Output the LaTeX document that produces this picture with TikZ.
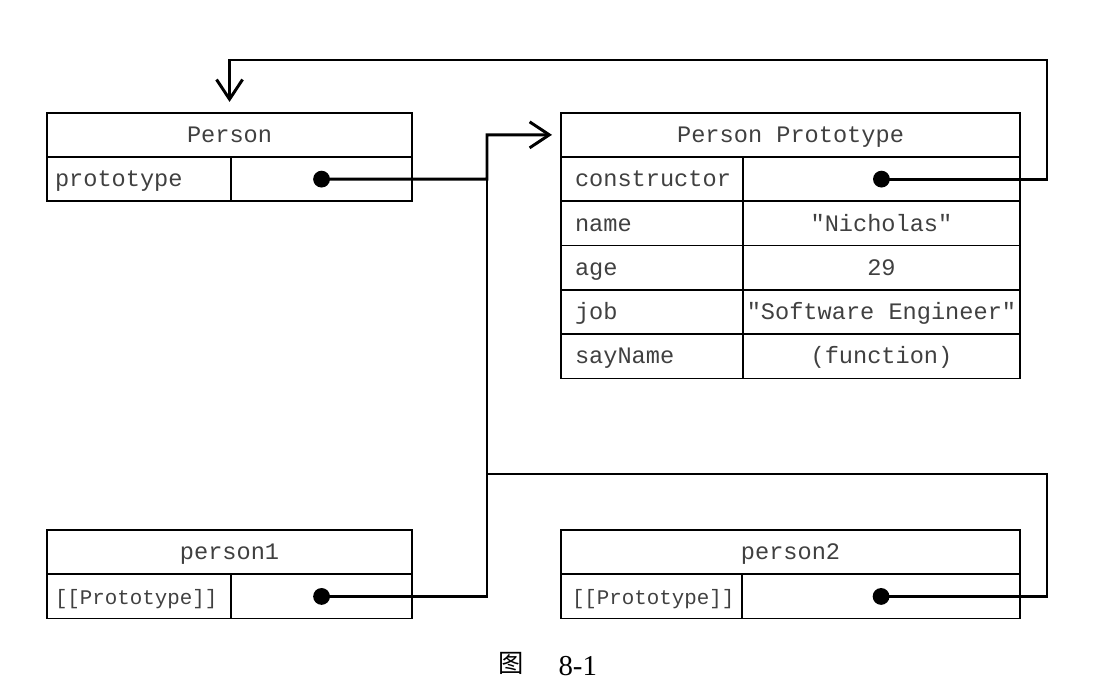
\documentclass[tikz,border=0pt]{standalone}
\usepackage{fontspec}
\setmainfont{Liberation Serif}
\newfontfamily\mono{Liberation Mono}
\newfontfamily\cjk{Noto Sans CJK SC}
\usetikzlibrary{positioning,arrows.meta}

\begin{document}
\begin{tikzpicture}[x=0.025cm,y=-0.025cm,>={Straight Barb[length=14pt,width=18.5pt]},
  cell/.style={draw,line width=1.2pt,outer sep=0pt,inner sep=0pt,minimum height=1.107cm,
    text height=14pt,text depth=3pt,font=\mono\fontsize{16.8}{18}\selectfont,text=black!75},
  key/.style={cell,align=left,inner xsep=#1},
  small/.style={font=\mono\fontsize{14.8}{16}\selectfont},
  conn/.style={line width=2.1pt}]
  \useasboundingbox (0,0) rectangle (1100,688);
  % Person
  \node[cell,minimum width=9.125cm,anchor=north west] (pH) at (47,112.7) {Person};
  \node[key=0.2cm,text width=4.2cm,anchor=north west] (pK) at (pH.south west) {prototype};
  \node[cell,minimum width=4.525cm,anchor=north east] (pV) at (pH.south east) {};
  % Person Prototype
  \node[cell,minimum width=11.475cm,anchor=north west] (ppH) at (561,112.7) {Person Prototype};
  \foreach \k/\v [count=\i] in {constructor/{},name/"Nicholas",age/29,job/"Software Engineer",sayName/(function)}{
    \node[key=0.35cm,text width=3.85cm,anchor=north west] (rK\i) at (561,{112.7+\i*44.28}) {\k};
    \node[cell,minimum width=6.925cm,anchor=north east] (rV\i) at (1020,{112.7+\i*44.28}) {\v};
  }
  % person1, person2
  \node[cell,minimum width=9.125cm,anchor=north west] (q1H) at (47,530) {person1};
  \node[key=0.2cm,small,text width=4.2cm,anchor=north west] (q1K) at (q1H.south west) {[[Prototype]]};
  \node[cell,minimum width=4.525cm,anchor=north east] (q1V) at (q1H.south east) {};
  \node[cell,minimum width=11.475cm,anchor=north west] (q2H) at (561,530) {person2};
  \node[key=0.275cm,small,text width=3.975cm,anchor=north west] (q2K) at (q2H.south west) {[[Prototype]]};
  \node[cell,minimum width=6.95cm,anchor=north east] (q2V) at (q2H.south east) {};
  \foreach \n in {pV,rV1,q1V,q2V} \fill (\n) circle (0.21cm);
  % links
  \coordinate (busT) at (487,134.85); \coordinate (busB) at (487,474);
  \coordinate (loopT) at (1047,60); \coordinate (loopB) at (1047,474);
  \draw[conn,->,shorten >=0.225cm] (pV.center) -| (busT) -- (ppH.west);
  \draw[conn,->,shorten >=0.27cm] (rV1.center) -| (loopT) -| (pH.north);
  \draw[conn] (q1V.center) -| (busT);
  \draw[conn] (q2V.center) -| (loopB) -- (busB);
  \node[anchor=base,font=\fontsize{20.5}{24}\selectfont] (cap) at (547.5,675)
    {\raisebox{2pt}{\cjk\fontsize{18}{20}\selectfont 图}\hspace{25pt}8-1};
\end{tikzpicture}
\end{document}
